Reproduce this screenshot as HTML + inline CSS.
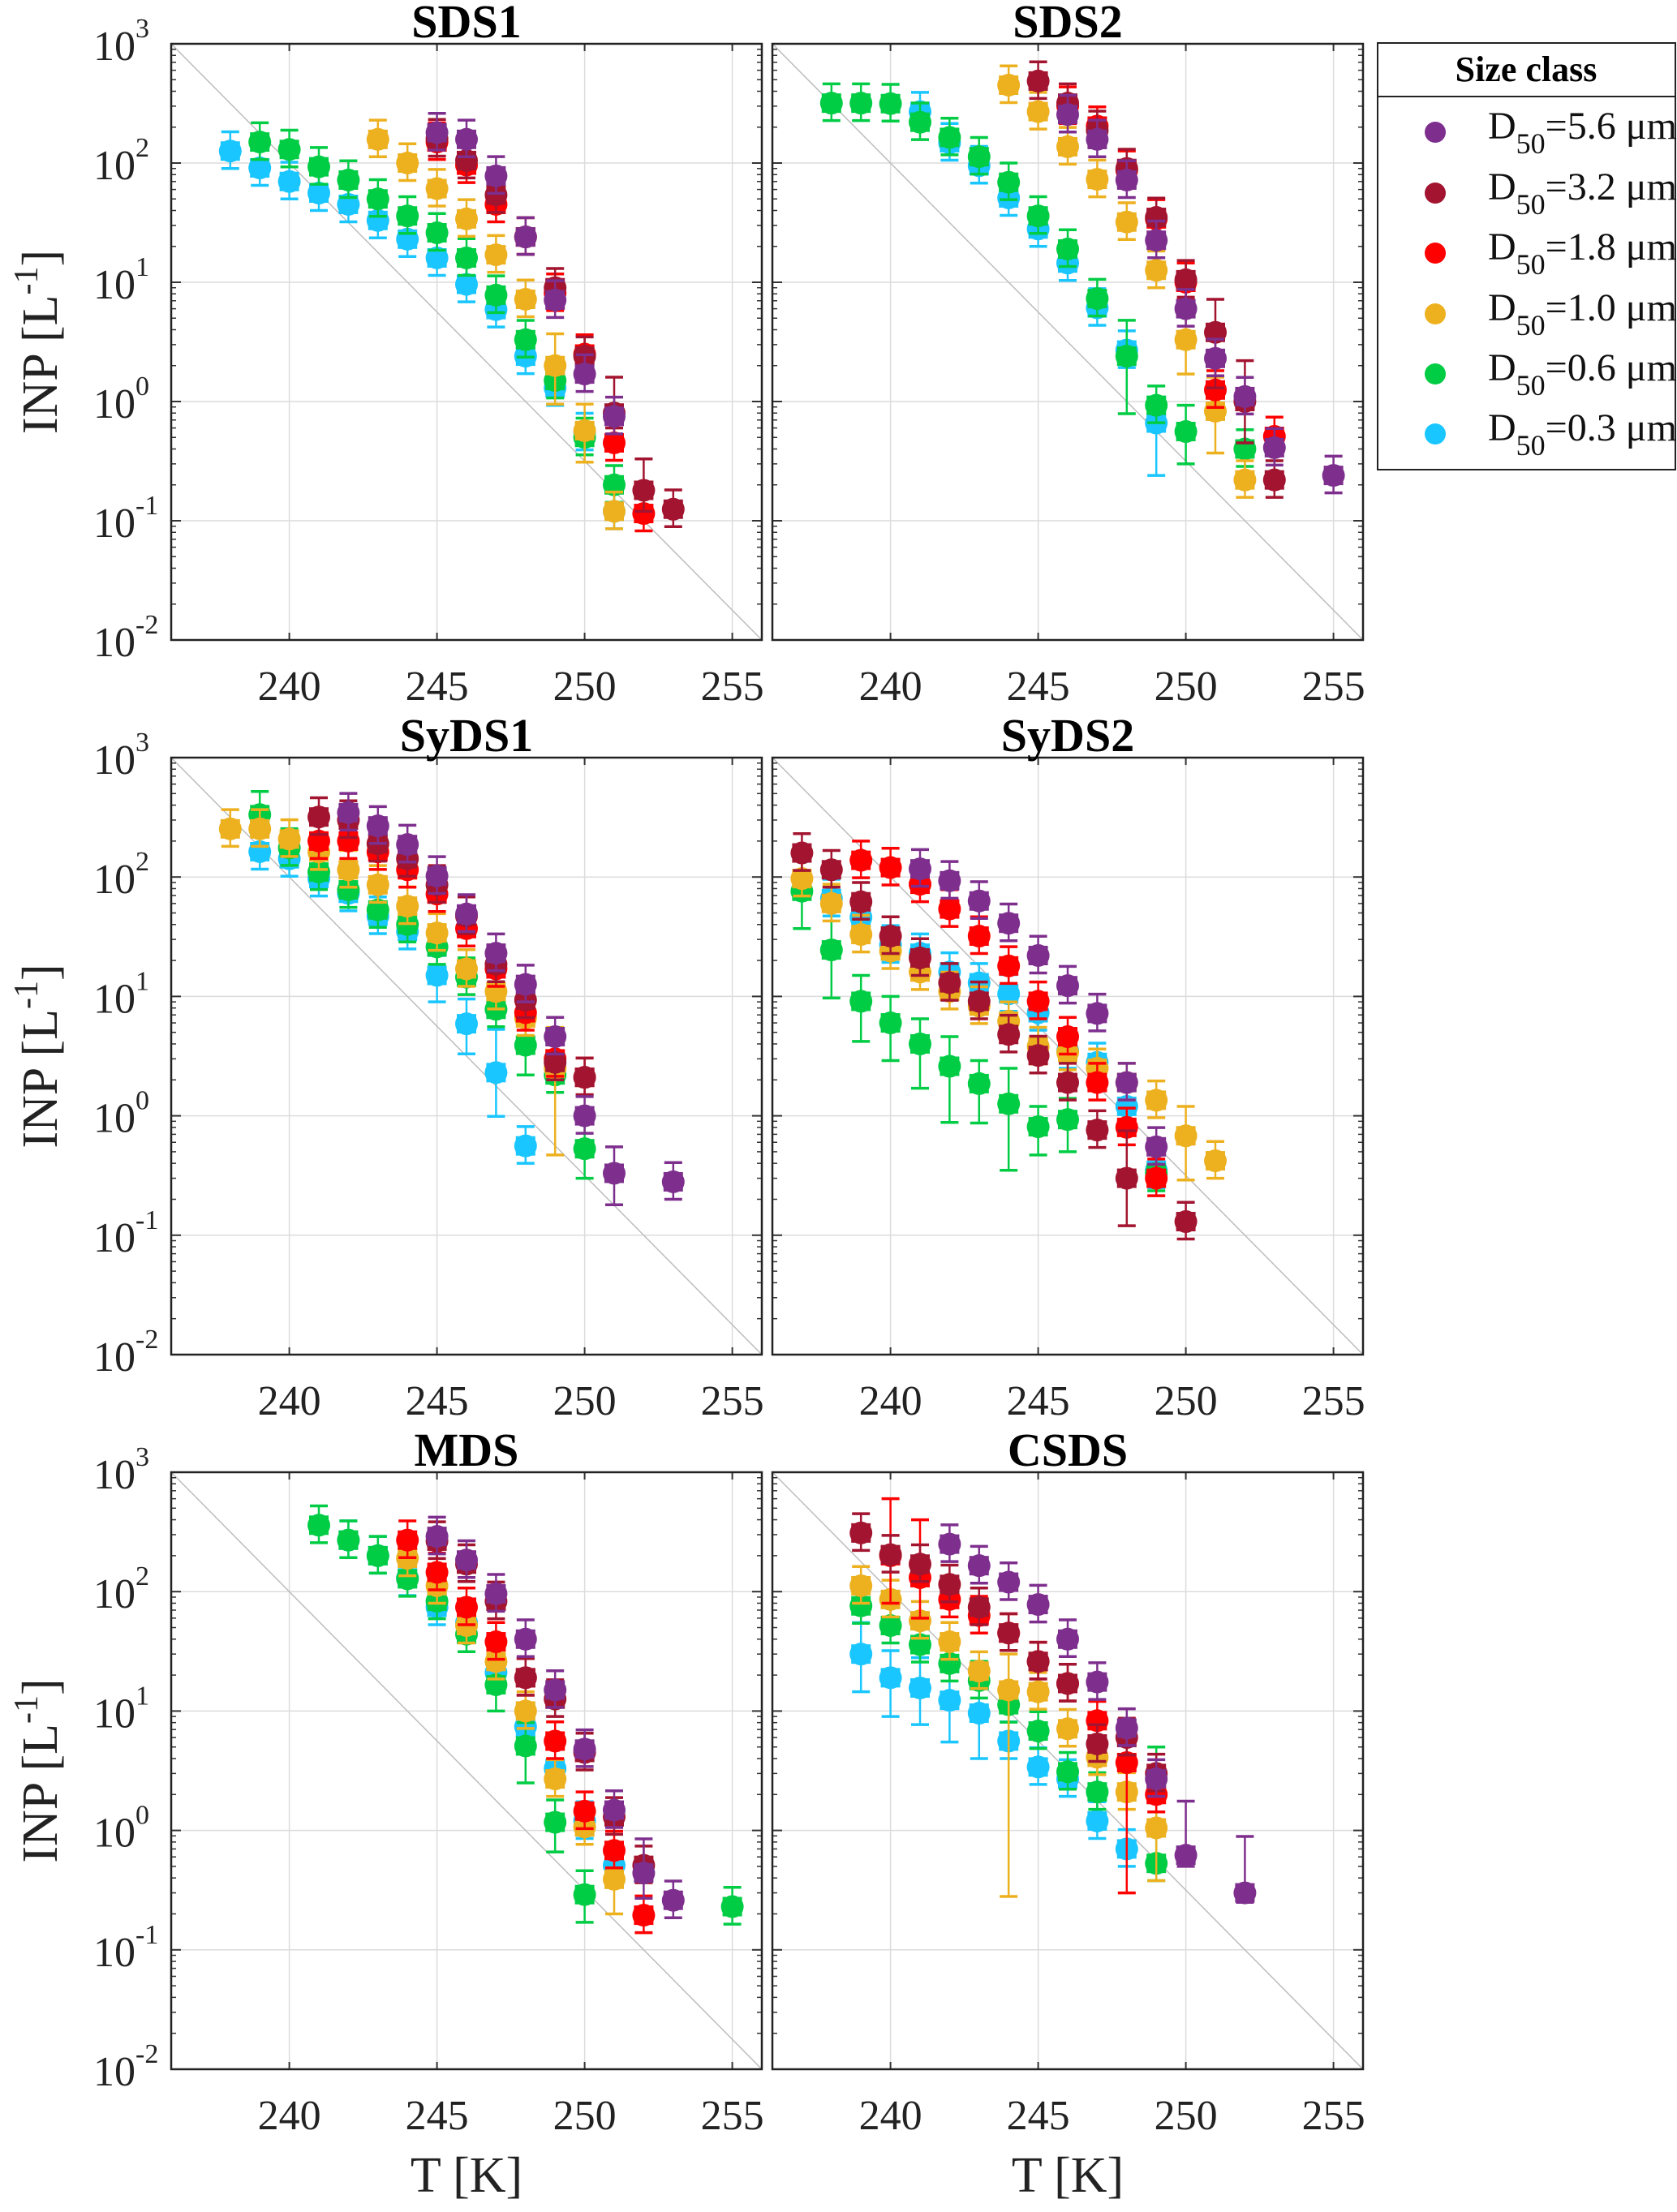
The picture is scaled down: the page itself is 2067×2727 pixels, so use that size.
<!DOCTYPE html>
<html><head><meta charset="utf-8">
<style>
html,body{margin:0;padding:0;background:#fff;}
svg, svg text{font-family:"Liberation Serif","Times New Roman",serif;}
</style></head>
<body>
<svg id="fig" width="2067" height="2722" viewBox="0 0 2067 2722" xmlns="http://www.w3.org/2000/svg" font-family="Liberation Serif, serif">
  <g>
    <rect x="1698" y="53" width="367" height="526" fill="#fff" stroke="#222" stroke-width="2"/>
    <line x1="1698" y1="119" x2="2065" y2="119" stroke="#222" stroke-width="2"/>
    <text x="1881" y="100" text-anchor="middle" font-weight="bold" font-size="44" font-family="Liberation Serif, serif">Size class</text>
  </g>
</svg>
<script>
// ---- chart data ----
var sizeLabels = ["5.6","3.2","1.8","1.0","0.6","0.3"];
var seriesColors = ["#7E2F8E","#A2142F","#FF0000","#EDB120","#00CC44","#1AC6FF"];
var panelTitles = ["SDS1","SDS2","SyDS1","SyDS2","MDS","CSDS"];
var xTicks = [240,245,250,255];
var yTickExp = [3,2,1,0,-1,-2];
var xDomain = [236,256];
var yDomainExp = [-2,3];

// points: [T, value] or [T, value, lower, upper]
var sds1Purple = [[245,180],[246,158],[247,78],[248,24],[249,7.1],[250,1.7],[251,0.75]];
var sds1DarkRed = [[245,160],[246,105],[247,54],[248,24],[249,9],[250,2.4],[251,0.8,0.6,1.6],[252,0.18,0.12,0.33],[253,0.125]];
var sds1Red = [[245,150],[246,96],[247,45],[248,24],[249,8.1],[250,2.5],[251,0.45],[252,0.115]];
var sds1Orange = [[243,158],[244,100],[245,61],[246,34],[247,17],[248,7.2],[249,2.0,0.95,3.7],[250,0.57,0.31,0.95],[251,0.12]];
var sds1Green = [[239,150],[240,130],[241,93],[242,72],[243,50],[244,36],[245,26],[246,16],[247,7.8],[248,3.3],[249,1.5],[250,0.5],[251,0.2]];
var sds1Cyan = [[238,126],[239,91],[240,70],[241,56],[242,45],[243,33],[244,23],[245,16],[246,9.6],[247,5.9],[248,2.4],[249,1.3],[250,0.55],[251,0.12]];

var sds2Purple = [[246,255],[247,158],[248,72],[249,22.5],[250,6.0],[251,2.3],[252,1.1],[253,0.41],[255,0.24]];
var sds2DarkRed = [[245,487],[246,318],[247,188],[248,90],[249,35],[250,10.5],[251,3.8,1.3,7.2],[252,1.0,0.45,2.2],[253,0.22]];
var sds2Red = [[246,300],[247,204],[248,87],[249,34],[250,10],[251,1.25],[253,0.51]];
var sds2Orange = [[244,450],[245,270],[246,137],[247,73],[248,32],[249,12.6],[250,3.3,1.7,6],[251,0.83,0.37,1.6],[252,0.22]];
var sds2Green = [[238,318],[239,318],[240,315],[241,220],[242,164],[243,113],[244,69],[245,36],[246,19],[247,7.3],[248,2.4,0.79,4.8],[249,0.93],[250,0.56,0.3,0.93],[252,0.40]];
var sds2Cyan = [[241,270],[242,148],[243,95],[244,51],[245,28],[246,14.5],[247,6.1],[248,2.7],[249,0.66,0.24,0.9]];

var syds1Purple = [[242,346],[243,268],[244,187],[245,102],[246,49],[247,23],[248,12.6],[249,4.6],[250,1.0],[251,0.33,0.18,0.55],[253,0.28]];
var syds1DarkRed = [[241,318],[242,300],[243,190],[244,142],[245,86],[246,47],[247,18.6],[248,9.3],[249,2.8],[250,2.1]];
var syds1Red = [[241,200],[242,200],[243,162],[244,115],[245,72],[246,37],[247,17],[248,7.3],[249,3.0],[250,2.1]];
var syds1Orange = [[238,253],[239,253],[240,208],[241,162],[242,115],[243,86],[244,57],[245,34],[246,17],[247,11],[248,6.6],[249,2.5,0.47,5.5]];
var syds1Green = [[239,333,220,520],[240,175],[241,110],[242,78],[243,53],[244,40],[245,26],[246,14.5],[247,7.8],[248,3.9,2.2,5.8],[249,2.2],[250,0.53,0.3,1.0]];
var syds1Cyan = [[239,163],[240,142],[241,97],[242,73],[243,47],[244,35],[245,15,9,22],[246,5.9,3.3,9.5],[247,2.3,0.99,5.3],[248,0.56]];

var syds2Purple = [[241,117],[242,93],[243,63],[244,41],[245,22],[246,12.3],[247,7.2],[248,1.9],[249,0.55]];
var syds2DarkRed = [[237,159],[238,115],[239,62],[240,32],[241,21],[242,13],[243,9.1],[244,4.8],[245,3.2],[246,1.9],[247,0.76],[248,0.30,0.12,0.75],[250,0.13]];
var syds2Red = [[239,138],[240,120],[241,87],[242,54],[243,32],[244,18],[245,9.1],[246,4.6],[247,1.9],[248,0.80],[249,0.30]];
var syds2Orange = [[237,97],[238,60],[239,33],[240,24],[241,16],[242,11],[243,8.3],[244,6.2],[245,3.8],[246,3.4],[247,2.5],[248,1.9],[249,1.35],[250,0.68,0.29,1.2],[251,0.42]];
var syds2Green = [[237,76,37,110],[238,24.5,9.7,55],[239,9.1,4.2,15],[240,6.0,2.9,10],[241,4.0,1.7,6.5],[242,2.6,0.88,4.6],[243,1.86,0.87,2.9],[244,1.26,0.35,2.5],[245,0.81,0.47,1.2],[246,0.93,0.5,1.4],[249,0.33]];
var syds2Cyan = [[238,66],[239,46],[240,27],[241,23],[242,16],[243,13],[244,10.5],[245,7.3],[246,3.5],[247,2.8],[248,1.2],[249,0.35]];

var mdsPurple = [[245,290],[246,184],[247,96],[248,40],[249,15],[250,4.8],[251,1.48],[252,0.44,0.27,0.85],[253,0.26]];
var mdsDarkRed = [[245,265],[246,170],[247,83],[248,19],[249,12.6],[250,4.5],[251,1.3],[252,0.51]];
var mdsRed = [[244,270],[245,145],[246,74],[247,38],[248,19],[249,5.6],[250,1.45],[251,0.68],[252,0.195]];
var mdsOrange = [[244,190],[245,112],[246,52],[247,26],[248,10],[249,2.7],[250,1.07],[251,0.39,0.2,0.6]];
var mdsGreen = [[241,360],[242,270],[243,200],[244,128],[245,83],[246,44],[247,16.6,10,24],[248,5.1,2.5,8],[249,1.17,0.66,1.8],[250,0.29,0.17,0.46],[255,0.23]];
var mdsCyan = [[242,270],[243,200],[244,130],[245,74],[246,55],[247,21],[248,7.4],[249,3.3],[250,1.2],[251,0.51]];

var csdsPurple = [[242,250],[243,165],[244,120],[245,78],[246,40],[247,17.5],[248,7.2],[249,2.7],[250,0.62,0.5,1.76],[252,0.30,0.25,0.89]];
var csdsDarkRed = [[239,310],[240,204],[241,170],[242,115],[243,74],[244,45],[245,26],[246,17],[247,5.3],[248,6],[249,3]];
var csdsRed = [[240,200,80,600],[241,131,60,400],[242,86],[243,63],[244,45],[245,26],[246,17],[247,8.3],[248,3.7,0.30,6],[249,2.0]];
var csdsOrange = [[239,112],[240,86],[241,57],[242,38],[243,21.6],[244,15,0.28,30],[245,14.5],[246,7.1],[247,4.1],[248,2.1],[249,1.05,0.38,2.2]];
var csdsGreen = [[239,76],[240,52],[241,36],[242,25],[243,18],[244,11.3],[245,6.8],[246,3.1],[247,2.1],[249,0.53,0.38,5]];
var csdsCyan = [[239,30,14.5,55],[240,19,9,32],[241,15.6,7.7,28],[242,12.3,5.5,22],[243,9.6,4,18],[244,5.6],[245,3.4],[246,2.7],[247,1.2],[248,0.7]];

var panelData = [
  [sds1Purple,sds1DarkRed,sds1Red,sds1Orange,sds1Green,sds1Cyan],
  [sds2Purple,sds2DarkRed,sds2Red,sds2Orange,sds2Green,sds2Cyan],
  [syds1Purple,syds1DarkRed,syds1Red,syds1Orange,syds1Green,syds1Cyan],
  [syds2Purple,syds2DarkRed,syds2Red,syds2Orange,syds2Green,syds2Cyan],
  [mdsPurple,mdsDarkRed,mdsRed,mdsOrange,mdsGreen,mdsCyan],
  [csdsPurple,csdsDarkRed,csdsRed,csdsOrange,csdsGreen,csdsCyan]
];

// ---- layout ----
var NS = "http://www.w3.org/2000/svg";
var FONT = "Liberation Serif, serif";
var svg = document.getElementById("fig");
var colX = [[211,939],[952,1680]];
var rowY = [[54,789],[934,1670],[1815,2551]];
var seriesNames = ["d50-5-6","d50-3-2","d50-1-8","d50-1-0","d50-0-6","d50-0-3"];

function mk(tag, attrs, parent){
  var e = document.createElementNS(NS, tag);
  for (var k in attrs) e.setAttribute(k, attrs[k]);
  if (tag === "text") e.setAttribute("font-family", FONT);
  (parent||svg).appendChild(e);
  return e;
}

for (var p = 0; p < 6; p++) {
  var col = p % 2, row = Math.floor(p / 2);
  var x0 = colX[col][0], x1 = colX[col][1], y0 = rowY[row][0], y1 = rowY[row][1];
  var xs = (function(a,b){return function(t){return a + (t - xDomain[0])/(xDomain[1]-xDomain[0])*(b-a);};})(x0,x1);
  var ys = (function(a,b){return function(v){var l=Math.log10(v);return b - (l - yDomainExp[0])/(yDomainExp[1]-yDomainExp[0])*(b-a);};})(y0,y1);
  var g = mk("g", {});
  
  
  xTicks.forEach(function(t){
    mk("line",{x1:xs(t),x2:xs(t),y1:y0,y2:y1,stroke:"#dcdcdc","stroke-width":1.5},g);
  });
  yTickExp.forEach(function(e){
    var yy = ys(Math.pow(10,e));
    mk("line",{x1:x0,x2:x1,y1:yy,y2:yy,stroke:"#dcdcdc","stroke-width":1.5},g);
  });
  var diag = mk("line",{x1:x0,y1:y0,x2:x1,y2:y1,stroke:"#bdbdbd","stroke-width":1.5},g);
  
  
  xTicks.forEach(function(t){
    mk("line",{x1:xs(t),x2:xs(t),y1:y0,y2:y0+9,stroke:"#333","stroke-width":2},g);
    mk("line",{x1:xs(t),x2:xs(t),y1:y1,y2:y1-9,stroke:"#333","stroke-width":2},g);
    var tl = mk("text",{x:xs(t),y:y1+74,"text-anchor":"middle","font-size":52,fill:"#222"},g);
    tl.textContent = t;
    
    
  });
  for (var e = yDomainExp[0]; e <= yDomainExp[1]; e++) {
    var yy = ys(Math.pow(10,e));
    mk("line",{x1:x0,x2:x0+12,y1:yy,y2:yy,stroke:"#333","stroke-width":2},g);
    mk("line",{x1:x1,x2:x1-12,y1:yy,y2:yy,stroke:"#333","stroke-width":2},g);
    if (e < yDomainExp[1]) {
      for (var m = 2; m <= 9; m++) {
        var ym = ys(m*Math.pow(10,e));
        mk("line",{x1:x0,x2:x0+6,y1:ym,y2:ym,stroke:"#333","stroke-width":1.5},g);
        mk("line",{x1:x1,x2:x1-6,y1:ym,y2:ym,stroke:"#333","stroke-width":1.5},g);
      }
    }
    if (col === 0) {
      var yl = mk("text",{x:x0-44,y:yy+20,"text-anchor":"end","font-size":52,fill:"#222"},g);
      yl.textContent = "10";
      
      
      var ex = mk("text",{x:x0-44,y:yy-8,"text-anchor":"start","font-size":34,fill:"#222"},g);
      ex.textContent = e;
      
      
    }
  }
  mk("rect",{x:x0,y:y0,width:x1-x0,height:y1-y0,fill:"none",stroke:"#222","stroke-width":2.5},g);
  var tt = mk("text",{x:(x0+x1)/2,y:y0-8,"text-anchor":"middle","font-size":58,"font-weight":"bold",fill:"#000"},g);
  tt.textContent = panelTitles[p];
  
  
  if (col === 0) {
    var cy = (y0+y1)/2;
    var yt = mk("text",{x:0,y:0,"text-anchor":"middle","font-size":62,fill:"#222",transform:"translate(70,"+cy+") rotate(-90)"},g);
    yt.innerHTML = 'INP [L<tspan dy="-24" font-size="42">-1</tspan><tspan dy="24">]</tspan>';
    
    
  }
  if (row === 2) {
    var xt = mk("text",{x:(x0+x1)/2,y:2702,"text-anchor":"middle","font-size":62,fill:"#222"},g);
    xt.textContent = "T [K]";
    
    
  }
  for (var s = 5; s >= 0; s--) {
    var sg = mk("g", {}, g);
    
    
    var c = seriesColors[s];
    panelData[p][s].forEach(function(pt){
      var T = pt[0], v = pt[1];
      var lo = pt.length > 2 ? pt[2] : v/1.4;
      var hi = pt.length > 3 ? pt[3] : v*1.45;
      var cx = xs(T), cyv = ys(v), ylo = ys(lo), yhi = ys(hi);
      mk("line",{x1:cx,x2:cx,y1:yhi,y2:ylo,stroke:c,"stroke-width":2.5},sg);
      mk("line",{x1:cx-11,x2:cx+11,y1:yhi,y2:yhi,stroke:c,"stroke-width":3.5},sg);
      mk("line",{x1:cx-11,x2:cx+11,y1:ylo,y2:ylo,stroke:c,"stroke-width":3.5},sg);
      var sq = mk("rect",{x:cx-11,y:cyv-11,width:22,height:22,fill:c,stroke:c,"stroke-width":2},sg);
      
      
      mk("circle",{cx:cx,cy:cyv,r:14,fill:c},sg);
    });
  }
}

var legendY = [163,238,312,387,461,535];
for (var i = 0; i < 6; i++) {
  var lg = mk("g", {});
  
  
  mk("circle",{cx:1769,cy:legendY[i],r:13,fill:seriesColors[i]},lg);
  var lt = mk("text",{x:1834,y:legendY[i]+8,"font-size":48,fill:"#111"},lg);
  lt.innerHTML = 'D<tspan dy="18" font-size="36">50</tspan><tspan dy="-18">=' + sizeLabels[i] + ' μm</tspan>';
}
</script>
</body></html>
